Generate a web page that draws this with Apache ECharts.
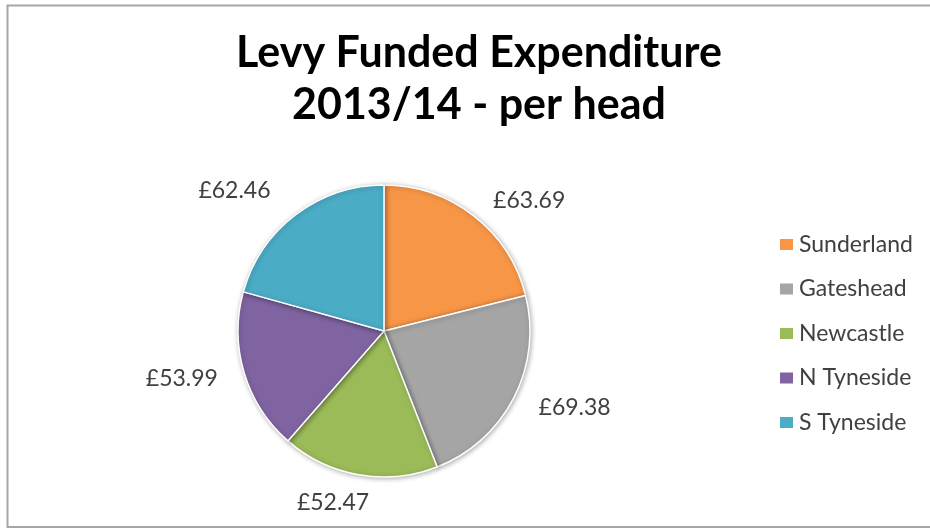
<!DOCTYPE html>
<html>
<head>
<meta charset="utf-8">
<script src="https://cdn.jsdelivr.net/npm/echarts@6/dist/echarts.min.js"></script>
<style>
  html, body { margin: 0; padding: 0; background: #ffffff; }
  #chart { width: 930px; height: 529px; }
</style>
</head>
<body>
<div id="chart"></div>
<script>
// Councils and their levy funded spend per head, 2013/14 (£)
const councils = ['Sunderland', 'Gateshead', 'Newcastle', 'N Tyneside', 'S Tyneside'];
const perHead = [63.69, 69.38, 52.47, 53.99, 62.46];
const sliceColors = ['#F79646', '#A5A5A5', '#9BBB59', '#8064A2', '#4BACC6'];
const chartTitle = 'Levy Funded Expenditure\n2013/14 - per head';

// Per-slice tweaks for where the value labels sit outside the pie
const labelGap = [20, 20, 28, 20, 30];
const labelShift = [5, 5, -17, 5, 5];

const chart = echarts.init(document.getElementById('chart'), null, { renderer: 'canvas' });

chart.setOption({
  backgroundColor: '#ffffff',
  animation: false,
  color: sliceColors,
  title: {
    text: chartTitle,
    left: 474,
    top: 22,
    textAlign: 'center',
    textStyle: {
      fontFamily: 'Lato',
      fontWeight: 'bold',
      fontSize: 43,
      lineHeight: 52,
      color: '#000000'
    }
  },
  legend: {
    orient: 'vertical',
    left: 773,
    top: 228,
    icon: 'rect',
    itemWidth: 15,
    itemHeight: 13,
    itemGap: 21.5,
    data: councils,
    textStyle: {
      fontFamily: 'Lato',
      fontSize: 23,
      color: '#404040'
    }
  },
  graphic: [{
    type: 'rect',
    silent: true,
    shape: { x: 7.5, y: 5.5, width: 940, height: 521.5 },
    style: { fill: 'none', stroke: '#a6a6a6', lineWidth: 2 }
  }],
  series: [{
    type: 'pie',
    center: [384, 331],
    radius: 146,
    startAngle: 90,
    clockwise: true,
    data: councils.map((name, i) => ({
      name: name,
      value: perHead[i],
      labelLine: { length: labelGap[i] },
      label: { distanceToLabelLine: labelShift[i] }
    })),
    itemStyle: {
      borderColor: '#ffffff',
      borderWidth: 1.5,
      shadowBlur: 5,
      shadowColor: 'rgba(0,0,0,0.3)',
      shadowOffsetX: 1,
      shadowOffsetY: 1
    },
    label: {
      show: true,
      position: 'outside',
      formatter: p => '£' + p.value.toFixed(2),
      fontFamily: 'Lato',
      fontSize: 23,
      color: '#404040'
    },
    labelLine: { show: false, length: 20, length2: 2 },
    emphasis: { disabled: true }
  }]
});
</script>
</body>
</html>
